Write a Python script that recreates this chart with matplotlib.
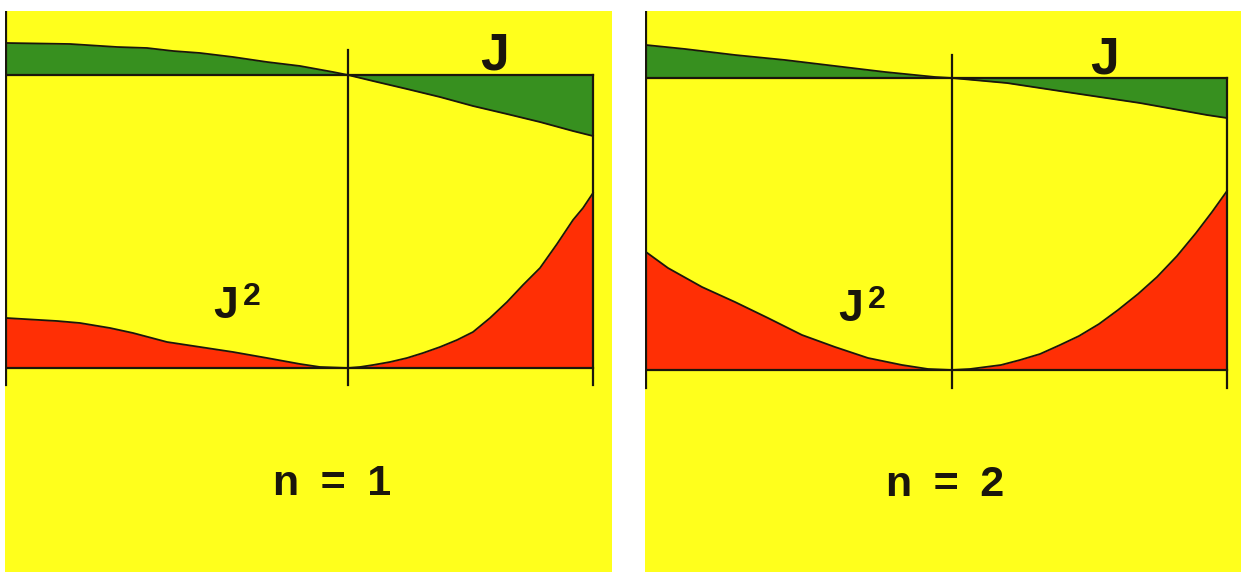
import matplotlib.pyplot as plt

plt.rcParams['font.family'] = ['Liberation Sans', 'DejaVu Sans']

# positions across the conductor, 0 = centre line (1 unit = 10 px)
x_j_n1 = [-34.2, -27.8, -23.1, -20.1, -17.5, -14.8, -11.5, -8.1, -4.8, -1.5, 0.0,
          2.5, 5.9, 9.2, 12.5, 15.9, 19.2, 22.5, 24.5]
j_n1 = [3.2, 3.1, 2.8, 2.7, 2.4, 2.2, 1.8, 1.3, 0.9, 0.3, 0.0,
        -0.6, -1.4, -2.2, -3.1, -3.9, -4.7, -5.6, -6.1]
x_j2_n1 = [-34.2, -29.1, -26.8, -23.8, -21.5, -18.1, -14.8, -11.5, -8.1, -4.8, -2.8, 0.0,
           1.2, 2.5, 4.2, 5.9, 7.5, 9.2, 10.9, 12.5, 14.2, 15.9, 17.5, 19.2, 20.9,
           22.5, 23.5, 24.5]
j2_n1 = [5.0, 4.7, 4.5, 4.0, 3.5, 2.6, 2.1, 1.6, 1.0, 0.4, 0.1, 0.0,
         0.1, 0.3, 0.6, 1.0, 1.5, 2.1, 2.8, 3.6, 5.0, 6.6, 8.3, 10.0, 12.4,
         14.8, 16.0, 17.5]

x_j_n2 = [-30.6, -26.7, -21.7, -16.7, -11.7, -6.7, -1.7, 0.0,
          5.5, 12.1, 18.8, 25.5, 27.5]
j_n2 = [3.3, 2.9, 2.3, 1.8, 1.2, 0.6, 0.1, 0.0,
        -0.5, -1.5, -2.5, -3.7, -4.0]
x_j2_n2 = [-30.6, -28.4, -25.0, -21.7, -18.4, -15.0, -11.7, -8.4, -5.0, -2.4, 0.0,
           1.8, 4.9, 6.8, 8.8, 10.8, 12.7, 14.7, 16.6, 18.6, 20.5, 22.5, 24.4,
           26.0, 27.5]
j2_n2 = [11.8, 10.2, 8.3, 6.8, 5.2, 3.5, 2.3, 1.2, 0.5, 0.1, 0.0,
         0.1, 0.5, 1.0, 1.6, 2.5, 3.4, 4.6, 6.0, 7.6, 9.3, 11.4, 13.7,
         15.8, 17.9]

labels = ["n\u2002=\u20021", "n\u2002=\u20022"]

YELLOW = "#FFFF1C"
GREEN = "#37901F"
RED = "#FF2F05"
INK = "#1a160c"

fig = plt.figure(figsize=(12.41, 5.74), dpi=100)
fig.patch.set_facecolor("white")


def drawPanel(rect, xlim, ylim, x_j, j, x_j2, j2, base2, mid_top, label, label_pos,
              j_pos, j2_pos):
    ax = fig.add_axes(rect)
    ax.set_xlim(*xlim)
    ax.set_ylim(*ylim)
    ax.set_axis_off()
    ax.add_patch(plt.Rectangle((0, 0), 1, 1, transform=ax.transAxes,
                               facecolor=YELLOW, edgecolor="none", zorder=0))

    left, right = x_j[0], x_j[-1]
    bottom = base2 - 1.75

    # J, measured from the upper axis
    ax.fill_between(x_j, 0, j, color=GREEN, lw=0, zorder=2)
    ax.plot(x_j, j, color=INK, lw=1.3, zorder=3)
    ax.plot([left, right], [0, 0], color=INK, lw=1.6, zorder=3)

    # J^2, measured from the lower axis
    y2 = [base2 + v for v in j2]
    ax.fill_between(x_j2, base2, y2, color=RED, lw=0, zorder=2)
    ax.plot(x_j2, y2, color=INK, lw=1.3, zorder=3)
    ax.plot([left, right], [base2, base2], color=INK, lw=1.6, zorder=3)

    # edges and centre line
    ax.plot([left, left], [ylim[1], bottom], color=INK, lw=1.6, zorder=4)
    ax.plot([0, 0], [mid_top, bottom], color=INK, lw=1.6, zorder=4)
    ax.plot([right, right], [0, bottom], color=INK, lw=1.6, zorder=4)

    ax.text(j_pos[0], j_pos[1], "J", fontsize=37, fontweight="bold",
            color=INK, ha="center", va="baseline", zorder=5)
    ax.text(j2_pos[0], j2_pos[1], "J", fontsize=32, fontweight="bold",
            color=INK, ha="center", va="baseline", zorder=5)
    ax.text(j2_pos[0] + 1.7, j2_pos[1] + 1.3, "2", fontsize=23, fontweight="bold",
            color=INK, ha="left", va="baseline", zorder=5)
    ax.text(label_pos[0], label_pos[1], label, fontsize=31, fontweight="bold",
            color=INK, ha="center", va="baseline", zorder=5)
    return ax


W, H = 1241.0, 574.0
drawPanel([5 / W, 2 / H, 607 / W, 561 / H], (-34.3, 26.4), (-49.7, 6.4),
          x_j_n1, j_n1, x_j2_n1, j2_n1, -29.3, 2.5, labels[0], (-1.6, -42.0),
          (14.6, 0.5), (-12.2, -24.3))
drawPanel([645 / W, 2 / H, 596 / W, 561 / H], (-30.7, 28.9), (-49.4, 6.7),
          x_j_n2, j_n2, x_j2_n2, j2_n2, -29.2, 2.3, labels[1], (-0.7, -41.8),
          (15.2, 0.5), (-10.1, -24.3))

plt.savefig("out.png", dpi=100, facecolor="white")
